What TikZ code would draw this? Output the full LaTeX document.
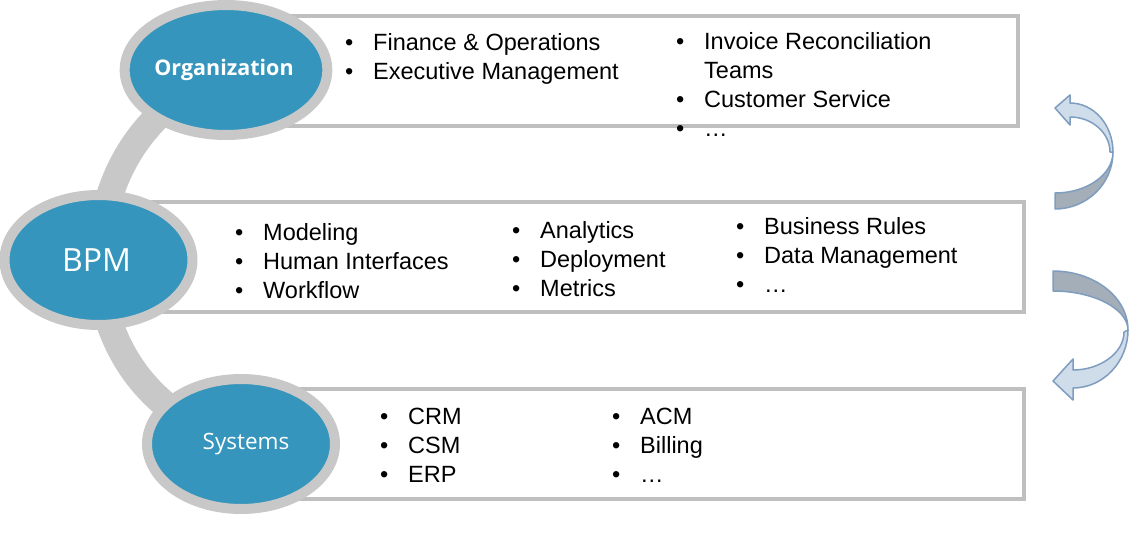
\documentclass[tikz,border=0pt]{standalone}
\usepackage{fontspec}
\setmainfont{Liberation Sans}
\newfontfamily\ofont{Open Sans}
\usetikzlibrary{shapes.geometric,backgrounds}
\definecolor{bpmblue}{RGB}{54,149,188}
\definecolor{ringgray}{RGB}{200,200,200}
\definecolor{boxgray}{RGB}{191,191,191}
\definecolor{arrlight}{RGB}{207,220,233}
\definecolor{arrdark}{RGB}{164,174,185}
\definecolor{arredge}{RGB}{126,157,191}
\newcommand\itm[1]{\makebox[28pt][l]{\textbullet}#1\\}
\newcommand\itmcont[1]{\hspace*{28pt}#1\\}
\begin{document}
\begin{tikzpicture}[x=1pt,y=-1pt,
  bubble/.style={ellipse, draw=ringgray, line width=10pt, fill=bpmblue, text=white,
    minimum width=188pt, minimum height=130pt, inner sep=0pt},
  panel/.style={draw=boxgray, line width=3.5pt, fill=white, anchor=north west,
    inner sep=0pt, outer sep=0pt},
  link/.style={draw=ringgray, line width=27pt},
  items/.style={anchor=base west, inner sep=0pt, font=\fontsize{23.5}{29}\selectfont},
  arrfront/.style={fill=arrlight, draw=arredge, line width=1.5pt, line join=round},
  arrback/.style={fill=arrdark, draw=arredge, line width=1.5pt, line join=round}]
\useasboundingbox (0,0) rectangle (1130,554);

% bubbles
\node[bubble, font=\ofont\bfseries\fontsize{21.5}{26}\selectfont] (org) at (226,70) {Organization\hspace*{4pt}};
\node[bubble, font=\ofont\fontsize{32}{38}\selectfont] (bpm) at (98.5,260) {BPM\hspace*{4pt}};
\node[bubble, font=\ofont\fontsize{22.5}{27}\selectfont] (sys) at (241,444) {\hspace*{10pt}Systems};

\begin{scope}[on background layer]
  \node[panel, minimum width=792pt, minimum height=110pt] (orgpanel) at (226,16) {};
  \node[panel, minimum width=926pt, minimum height=110pt] (bpmpanel) at (98,202) {};
  \node[panel, minimum width=783pt, minimum height=110pt] (syspanel) at (241,389) {};
  \draw[link] (org.center) to[bend right=31] (bpm.center);
  \draw[link] (bpm.center) to[bend right=36] (sys.center);
\end{scope}

% item lists
\node[items] (orgA) at (345,50) {\begin{tabular}[t]{@{}l@{}}\itm{Finance \& Operations}\itm{Executive Management}\end{tabular}};
\node[items] (orgB) at (676,49) {\begin{tabular}[t]{@{}l@{}}\itm{Invoice Reconciliation}\itmcont{Teams}\itm{Customer Service}\itm{…}\end{tabular}};
\node[items] (bpmA) at (235,240) {\begin{tabular}[t]{@{}l@{}}\itm{Modeling}\itm{Human Interfaces}\itm{Workflow}\end{tabular}};
\node[items] (bpmB) at (512,238) {\begin{tabular}[t]{@{}l@{}}\itm{Analytics}\itm{Deployment}\itm{Metrics}\end{tabular}};
\node[items] (bpmC) at (736,234) {\begin{tabular}[t]{@{}l@{}}\itm{Business Rules}\itm{Data Management}\itm{…}\end{tabular}};
\node[items] (sysA) at (380,424) {\begin{tabular}[t]{@{}l@{}}\itm{CRM}\itm{CSM}\itm{ERP}\end{tabular}};
\node[items] (sysB) at (612,424) {\begin{tabular}[t]{@{}l@{}}\itm{ACM}\itm{Billing}\itm{…}\end{tabular}};

% curved arrows
\draw[arrback] (1055,209) .. controls (1087,209) and (1113,183.5) .. (1113,152)
  .. controls (1113,174.6) and (1087,193) .. (1055,193) -- cycle;
\draw[arrfront] (1113,152) .. controls (1113,125) and (1094,103) .. (1070,103)
  -- (1070,95) -- (1055,108) -- (1070,125) -- (1070,117)
  .. controls (1092,117) and (1110,133) .. (1110,152) -- cycle;
\draw[arrback] (1053,271) .. controls (1094,271) and (1128,297) .. (1128,330)
  .. controls (1128,309) and (1094,291) .. (1053,291) -- cycle;
\draw[arrfront] (1128,330) .. controls (1128,362) and (1103,388) .. (1073,388)
  -- (1073,400) -- (1053,381) -- (1073,359) -- (1073,370)
  .. controls (1100,370) and (1124,353) .. (1124,332) -- cycle;
\end{tikzpicture}
\end{document}
